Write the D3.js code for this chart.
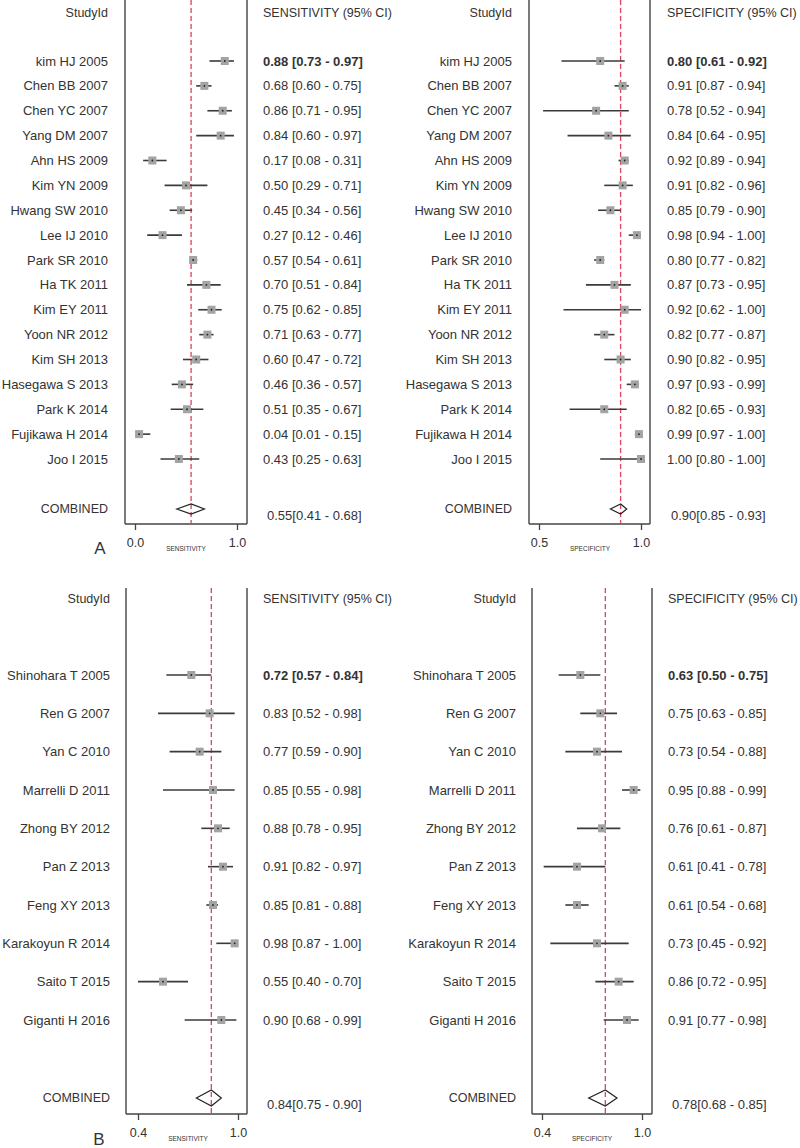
<!DOCTYPE html>
<html><head><meta charset="utf-8">
<script src="https://cdn.jsdelivr.net/npm/d3@7"></script>
<style>
html,body{margin:0;padding:0;background:#fff;}
svg text{font-family:"Liberation Sans",Arial,sans-serif;fill:#333;}
</style></head>
<body>
<svg id="chart" width="800" height="1148"></svg>
<script>
// ---------- DATA ----------
const studiesA = ["kim HJ 2005","Chen BB 2007","Chen YC 2007","Yang DM 2007","Ahn HS 2009","Kim YN 2009","Hwang SW 2010","Lee IJ 2010","Park SR 2010","Ha TK 2011","Kim EY 2011","Yoon NR 2012","Kim SH 2013","Hasegawa S 2013","Park K 2014","Fujikawa H 2014","Joo I 2015"];
const sensA    = [0.88,0.68,0.86,0.84,0.17,0.50,0.45,0.27,0.57,0.70,0.75,0.71,0.60,0.46,0.51,0.04,0.43];
const sensALo  = [0.73,0.60,0.71,0.60,0.08,0.29,0.34,0.12,0.54,0.51,0.62,0.63,0.47,0.36,0.35,0.01,0.25];
const sensAHi  = [0.97,0.75,0.95,0.97,0.31,0.71,0.56,0.46,0.61,0.84,0.85,0.77,0.72,0.57,0.67,0.15,0.63];
const specA    = [0.80,0.91,0.78,0.84,0.92,0.91,0.85,0.98,0.80,0.87,0.92,0.82,0.90,0.97,0.82,0.99,1.00];
const specALo  = [0.61,0.87,0.52,0.64,0.89,0.82,0.79,0.94,0.77,0.73,0.62,0.77,0.82,0.93,0.65,0.97,0.80];
const specAHi  = [0.92,0.94,0.94,0.95,0.94,0.96,0.90,1.00,0.82,0.95,1.00,0.87,0.95,0.99,0.93,1.00,1.00];
const combSensA = [0.55,0.41,0.68];
const combSpecA = [0.90,0.85,0.93];

const studiesB = ["Shinohara T 2005","Ren G 2007","Yan C 2010","Marrelli D 2011","Zhong BY 2012","Pan Z 2013","Feng XY 2013","Karakoyun R 2014","Saito T 2015","Giganti H 2016"];
const sensB    = [0.72,0.83,0.77,0.85,0.88,0.91,0.85,0.98,0.55,0.90];
const sensBLo  = [0.57,0.52,0.59,0.55,0.78,0.82,0.81,0.87,0.40,0.68];
const sensBHi  = [0.84,0.98,0.90,0.98,0.95,0.97,0.88,1.00,0.70,0.99];
const specB    = [0.63,0.75,0.73,0.95,0.76,0.61,0.61,0.73,0.86,0.91];
const specBLo  = [0.50,0.63,0.54,0.88,0.61,0.41,0.54,0.45,0.72,0.77];
const specBHi  = [0.75,0.85,0.88,0.99,0.87,0.78,0.68,0.92,0.95,0.98];
const combSensB = [0.84,0.75,0.90];
const combSpecB = [0.78,0.68,0.85];

const ticksSensA = [0.0,1.0];
const ticksSpecA = [0.5,1.0];
const ticksSensB = [0.4,1.0];
const ticksSpecB = [0.4,1.0];

// ---------- DRAW ----------
const svg = d3.select("#chart");
const f2 = d3.format(".2f");

function panel(o){
  const g = svg.append("g");
  const x = d3.scaleLinear().domain(o.domain).range(o.range);
  const y = d3.scaleLinear().domain([0, o.studies.length-1]).range(o.yRange);
  // frame lines
  [o.frameL, o.frameR].forEach(fx => {
    g.append("line").attr("x1",fx).attr("x2",fx).attr("y1",o.top).attr("y2",o.axisY)
      .attr("stroke","#5a5a5a").attr("stroke-width",1.6);
  });
  g.append("line").attr("x1",o.frameL).attr("x2",o.frameR).attr("y1",o.axisY).attr("y2",o.axisY)
    .attr("stroke","#444").attr("stroke-width",1.3);
  // axis ticks
  const ax = d3.axisBottom(x).tickValues(o.ticks).tickSize(6).tickPadding(8).tickFormat(d3.format(".1f"));
  const axg = g.append("g").attr("transform",`translate(0,${o.axisY})`).call(ax);
  axg.select(".domain").remove();
  axg.selectAll(".tick line").attr("stroke","#444").attr("stroke-width",1.3);
  axg.selectAll(".tick text").attr("font-size",12.5).attr("fill","#333")
     .style("font-family","'Liberation Sans',Arial,sans-serif");
  // axis title
  g.append("text").attr("x",o.titleX).attr("y",o.axisY+27).attr("text-anchor","middle")
    .attr("font-size",6.5).text(o.axisTitle);
  // reference dashed line
  g.append("line").attr("x1",x(o.comb[0])).attr("x2",x(o.comb[0])).attr("y1",o.top).attr("y2",o.axisY)
    .attr("stroke","#d9465f").attr("stroke-width",1.3).attr("stroke-dasharray","5,3");
  // headers
  g.append("text").attr("x",o.labelX).attr("y",o.headerY).attr("text-anchor","end")
    .attr("dominant-baseline","central").attr("font-size",12.5).text("StudyId");
  g.append("text").attr("x",o.valX).attr("y",o.headerY)
    .attr("dominant-baseline","central").attr("font-size",12.5).text(o.header);
  // rows
  const rows = o.studies.map((s,i)=>({s, est:o.est[i], lo:o.lo[i], hi:o.hi[i], i}));
  const r = g.selectAll("g.row").data(rows).join("g").attr("class","row");
  r.append("text").attr("x",o.labelX).attr("y",d=>y(d.i)).attr("text-anchor","end")
    .attr("dominant-baseline","central").attr("font-size",13).text(d=>d.s);
  r.append("text").attr("x",o.valX).attr("y",d=>y(d.i))
    .attr("dominant-baseline","central").attr("font-size",13)
    .attr("font-weight",d=>d.i===0?"bold":"normal")
    .text(d=>`${f2(d.est)} [${f2(d.lo)} - ${f2(d.hi)}]`);
  r.append("line").attr("x1",d=>x(d.lo)).attr("x2",d=>x(d.hi)).attr("y1",d=>y(d.i)).attr("y2",d=>y(d.i))
    .attr("stroke","#3a3a3a").attr("stroke-width",1.6);
  const sq = 8;
  r.append("rect").attr("x",d=>x(d.est)-sq/2).attr("y",d=>y(d.i)-sq/2).attr("width",sq).attr("height",sq)
    .attr("fill","#a3a3a3");
  r.append("circle").attr("cx",d=>x(d.est)).attr("cy",d=>y(d.i)).attr("r",0.9).attr("fill","#222");
  // combined
  g.append("text").attr("x",o.labelX).attr("y",o.combY).attr("text-anchor","end")
    .attr("dominant-baseline","central").attr("font-size",12.5).text("COMBINED");
  g.append("text").attr("x",o.valX+4).attr("y",o.combY+6)
    .attr("dominant-baseline","central").attr("font-size",13)
    .text(`${f2(o.comb[0])}[${f2(o.comb[1])} - ${f2(o.comb[2])}]`);
  const h = o.diamondH;
  const pts = [[x(o.comb[1]),o.combY],[x(o.comb[0]),o.combY-h],[x(o.comb[2]),o.combY],[x(o.comb[0]),o.combY+h]];
  g.append("path").attr("d","M"+pts.map(p=>p.join(",")).join("L")+"Z")
    .attr("fill","none").attr("stroke","#222").attr("stroke-width",1.2);
}

const topCfg = {top:0, headerY:13, yRange:[61,459], combY:509, axisY:524, diamondH:5};
const botCfg = {top:588, headerY:599, yRange:[675,1020], combY:1098, axisY:1114, diamondH:8};

panel(Object.assign({}, topCfg, {studies:studiesA, est:sensA, lo:sensALo, hi:sensAHi, comb:combSensA,
  domain:[0,1], range:[135,237], ticks:ticksSensA, frameL:125, frameR:247, labelX:108, valX:263,
  header:"SENSITIVITY (95% CI)", axisTitle:"SENSITIVITY", titleX:186}));
panel(Object.assign({}, topCfg, {studies:studiesA, est:specA, lo:specALo, hi:specAHi, comb:combSpecA,
  domain:[0.5,1], range:[539,641], ticks:ticksSpecA, frameL:529, frameR:650, labelX:512, valX:667,
  header:"SPECIFICITY (95% CI)", axisTitle:"SPECIFICITY", titleX:590}));
panel(Object.assign({}, botCfg, {studies:studiesB, est:sensB, lo:sensBLo, hi:sensBHi, comb:combSensB,
  domain:[0.4,1], range:[138,238], ticks:ticksSensB, frameL:126, frameR:247, labelX:110, valX:263,
  header:"SENSITIVITY (95% CI)", axisTitle:"SENSITIVITY", titleX:188}));
panel(Object.assign({}, botCfg, {studies:studiesB, est:specB, lo:specBLo, hi:specBHi, comb:combSpecB,
  domain:[0.4,1], range:[542,642], ticks:ticksSpecB, frameL:532, frameR:652, labelX:516, valX:668,
  header:"SPECIFICITY (95% CI)", axisTitle:"SPECIFICITY", titleX:592}));

svg.append("text").attr("x",100).attr("y",548).attr("text-anchor","middle").attr("dominant-baseline","central")
  .attr("font-size",17).text("A");
svg.append("text").attr("x",99).attr("y",1139).attr("text-anchor","middle").attr("dominant-baseline","central")
  .attr("font-size",17).text("B");
</script>
</body></html>
